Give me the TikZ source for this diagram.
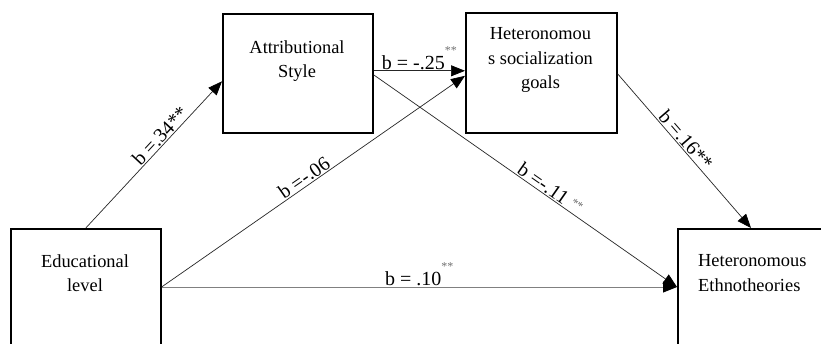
\documentclass[tikz,border=0pt]{standalone}
\usepackage{fontspec}
\setmainfont{Liberation Serif}
\usetikzlibrary{arrows.meta,calc}
\definecolor{sigcol}{HTML}{707070}
\newcommand\gsig{\raisebox{15pt}{\fontsize{12pt}{12pt}\selectfont\color{sigcol}**}}
\newcommand\gsigb{\raisebox{5pt}{\fontsize{12pt}{12pt}\selectfont\color{sigcol}**}}
\begin{document}
\begin{tikzpicture}[x=1pt,y=-1pt,
  box/.style={draw=black, line width=1.6pt, rectangle, inner sep=0pt, anchor=north west},
  boxtext/.style={font=\fontsize{18.4pt}{24.5pt}\selectfont, align=center, inner sep=0pt},
  lab/.style={font=\fontsize{20pt}{24pt}\selectfont, inner sep=1pt},
  conn/.style={draw=black!85, line width=0.7pt, -{Triangle[length=14pt,width=11pt,color=black]}}]
\clip (0,0) rectangle (821,343);
\fill[white] (0,0) rectangle (821,343);
% boxes
\node[box, minimum width=150pt, minimum height=119pt] (attr) at (222,13) {};
\node[box, minimum width=151pt, minimum height=120pt] (goals) at (465,12) {};
\node[box, minimum width=150pt, minimum height=140pt] (edu) at (10,228) {};
\node[box, minimum width=160pt, minimum height=140pt] (ethno) at (677,228) {};
% box texts
\node[boxtext, anchor=north] (attrT) at (297,40.4) {Attributional\\Style};
\node[boxtext, anchor=north] (goalsT) at (540.5,27.4) {Heteronomou\\s socialization\\goals};
\node[boxtext, anchor=north] (eduT) at (85,254.4) {Educational\\level};
\node[boxtext, anchor=north west, align=left] (ethnoT) at (698,254.4) {Heteronomous\\Ethnotheories};
% connectors
\draw[conn] (edu.north) -- node[lab, sloped, above, pos=0.59] (l1) {b =.34**} ($(attr.west)+(0,8)$);
\draw[conn] ($(attr.east)+(0,-2.5)$) -- node[lab, above, pos=0.5] (l2) {b = -.25\gsig} ($(goals.west)+(0,-2)$);
\draw[conn] ($(attr.east)+(0,1.5)$) -- node[lab, sloped, above, pos=0.567] (l3) {b =-.11 \gsigb} ($(ethno.north west)+(0,59)$);
\draw[conn] ($(edu.north east)+(0,59)$) -- node[lab, sloped, above, pos=0.485] (l4) {b =-.06} ($(goals.west)+(0,3)$);
\draw[conn, draw=gray, line width=1pt] ($(edu.north east)+(0,59)$) -- node[lab, above, pos=0.5] (l5) {b = .10\gsig} ($(ethno.north west)+(0,59)$);
\draw[conn] ($(goals.east)+(0,1)$) -- node[lab, sloped, above, pos=0.465] (l6) {b =.16**} ($(ethno.north west)+(74,0)$);
\end{tikzpicture}
\end{document}
